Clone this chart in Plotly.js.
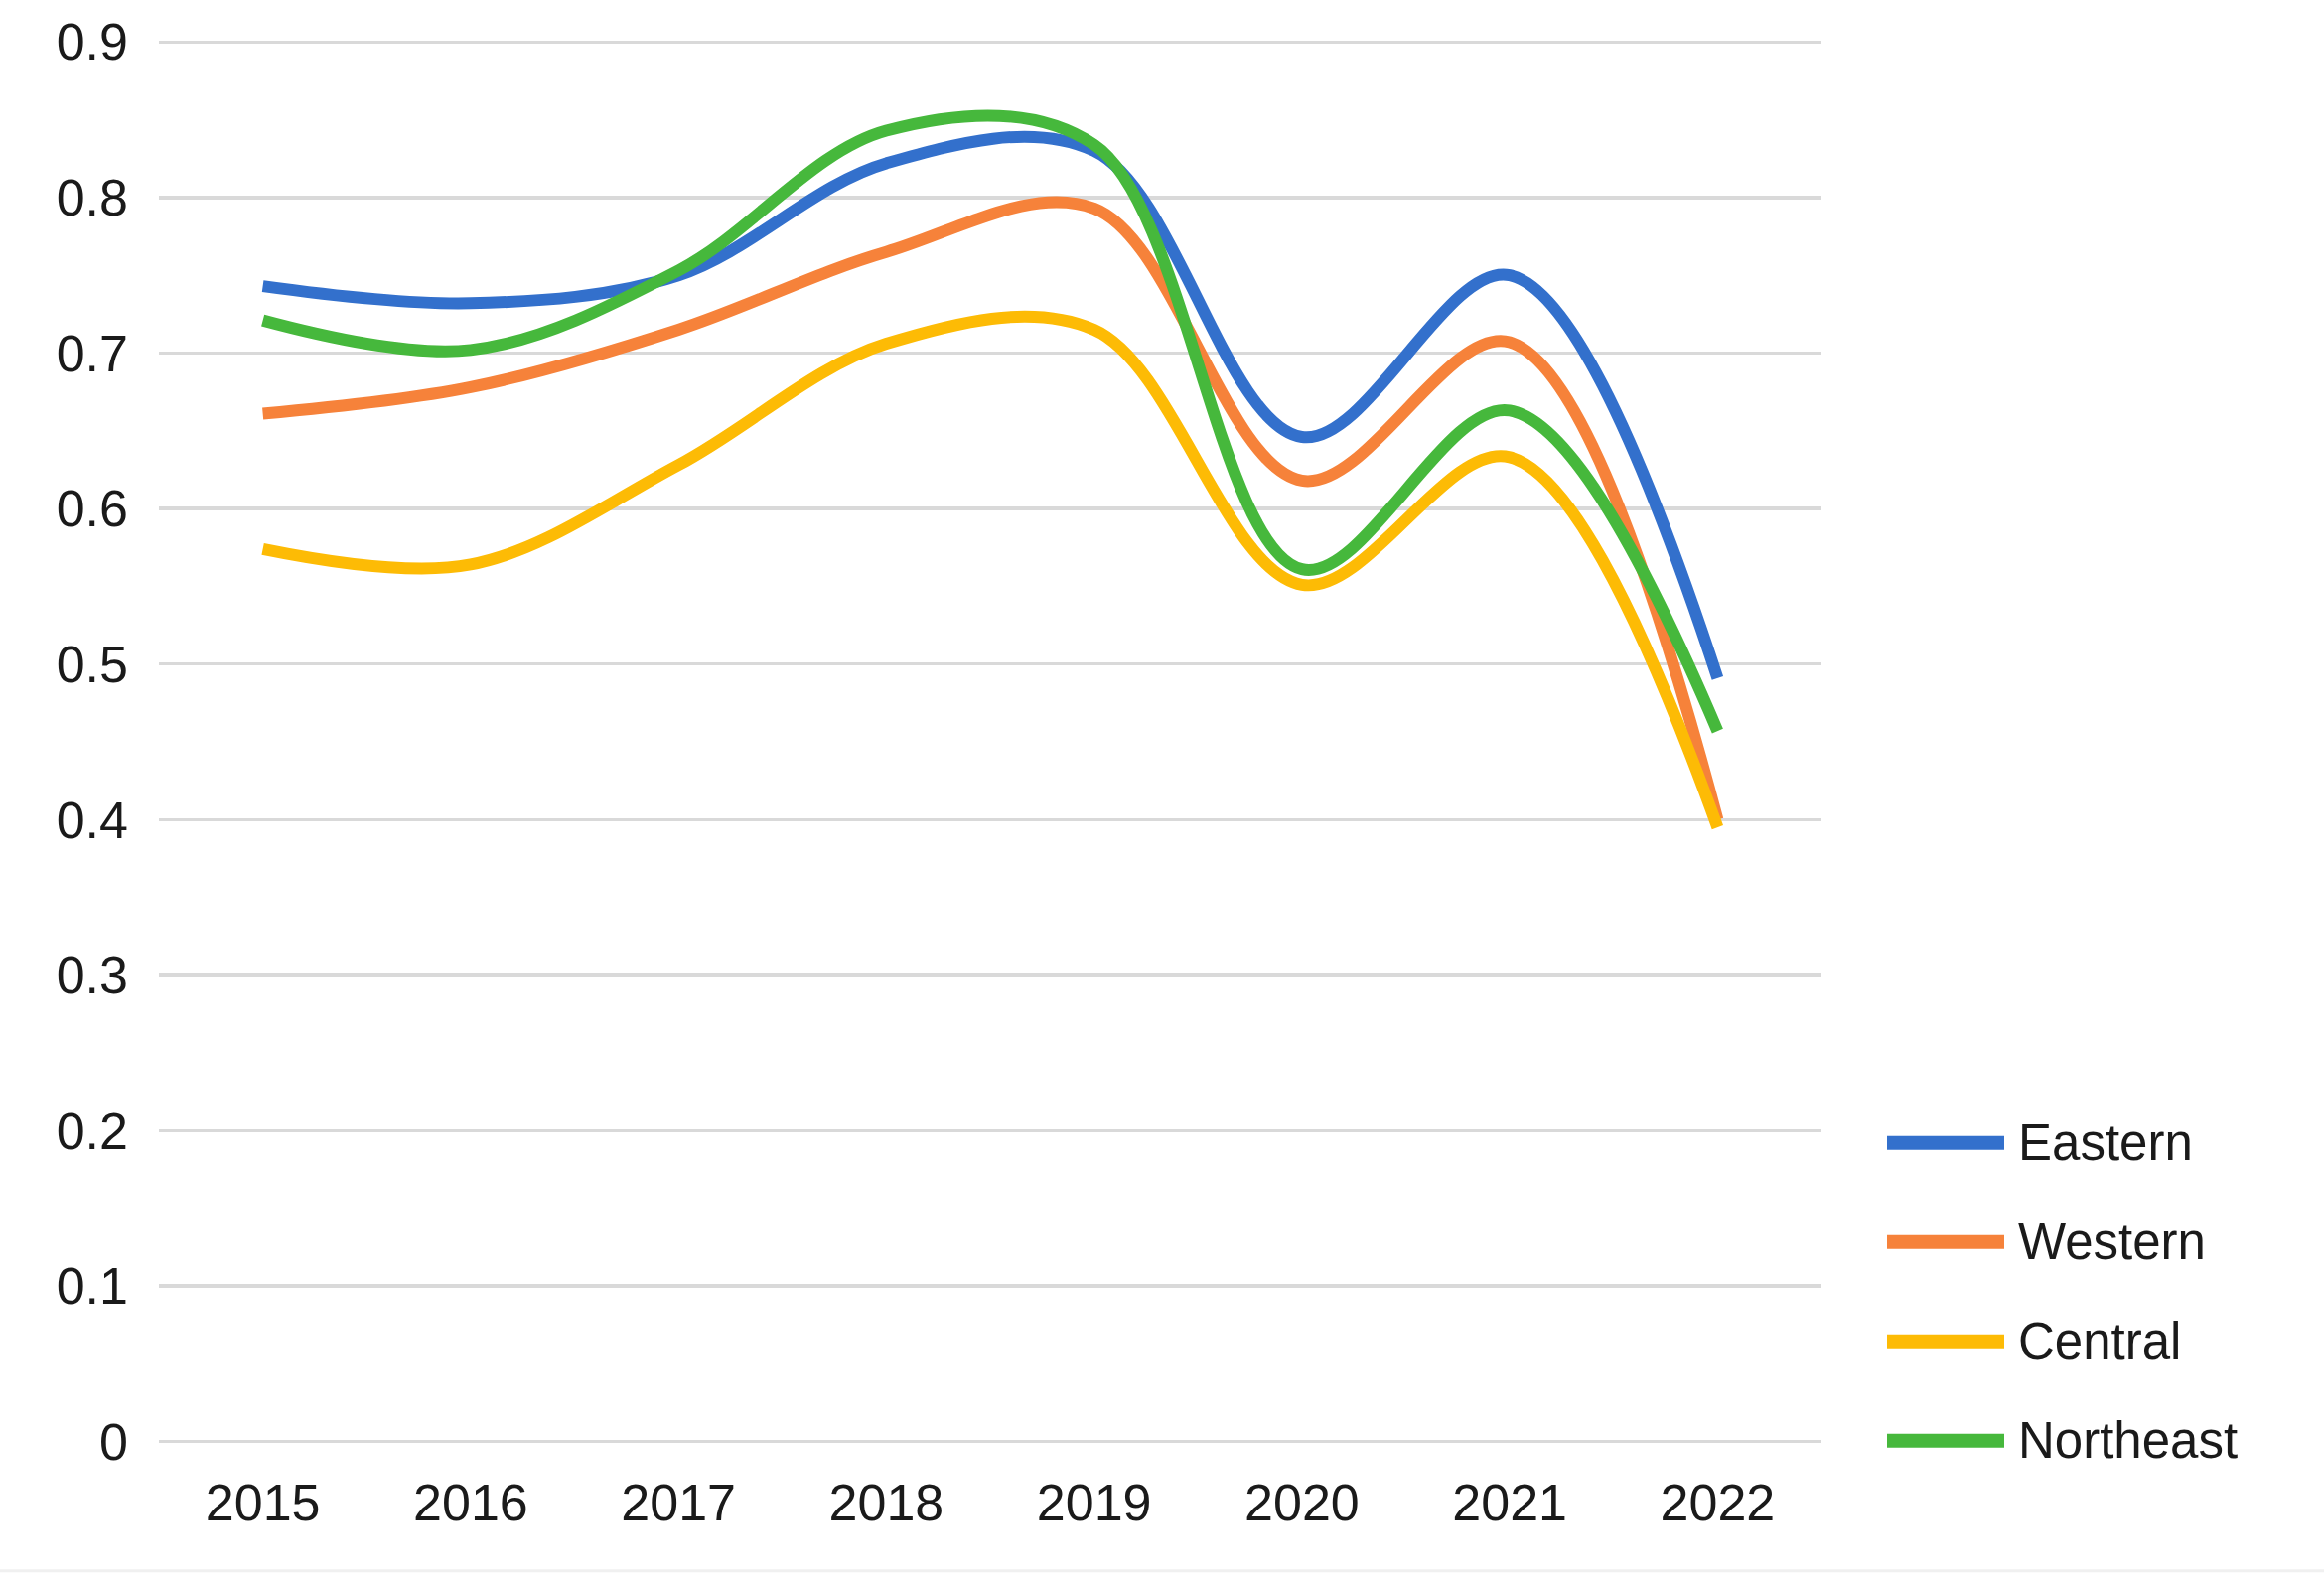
<!DOCTYPE html>
<html>
<head>
<meta charset="utf-8">
<script src="https://cdn.plot.ly/plotly-3.0.1.min.js"></script>
<style>
  html, body { margin: 0; padding: 0; background: #ffffff; }
  #chart { width: 2340px; height: 1593px; }
</style>
</head>
<body>
<div id="chart"></div>
<script>
// ---- data ----
const years = ['2015', '2016', '2017', '2018', '2019', '2020', '2021', '2022'];
const eastern   = [0.743, 0.732, 0.750, 0.822, 0.830, 0.646, 0.750, 0.491];
const western   = [0.661, 0.678, 0.715, 0.765, 0.793, 0.618, 0.707, 0.400];
const central   = [0.574, 0.564, 0.628, 0.706, 0.715, 0.551, 0.633, 0.395];
const northeast = [0.721, 0.702, 0.753, 0.843, 0.834, 0.561, 0.663, 0.457];
const seriesNames = ['Eastern', 'Western', 'Central', 'Northeast'];
const yTicks = [0, 0.1, 0.2, 0.3, 0.4, 0.5, 0.6, 0.7, 0.8, 0.9];
const yTickLabels = ['0', '0.1', '0.2', '0.3', '0.4', '0.5', '0.6', '0.7', '0.8', '0.9'];

// ---- styles ----
const colors = ['#3370CC', '#F6823A', '#FDBB05', '#46B83C'];
const seriesValues = [eastern, western, central, northeast];
const FONT = 'Liberation Sans, Arial, Helvetica, sans-serif';

const traces = seriesValues.map((vals, i) => ({
  type: 'scatter',
  mode: 'lines',
  name: seriesNames[i],
  x: years,
  y: vals,
  line: { color: colors[i], width: 12, shape: 'spline', smoothing: 1 },
  showlegend: false,
  hoverinfo: 'x+y+name'
}));

// plot box (pixels) ; y range padded slightly so the 0 and 0.9 gridlines are drawn
const plotL = 160, plotR = 1834;
const y0px = 1452, y9px = 42;          // pixel rows of 0 and 0.9
const yMin = -0.004, yMax = 0.904;
const pxPerUnit = (y0px - y9px) / 0.9;
const plotT = y9px - (yMax - 0.9) * pxPerUnit;
const plotB = y0px + (0 - yMin) * pxPerUnit;

const pxToPaperX = px => (px - plotL) / (plotR - plotL);
const pxToPaperY = py => (plotB - py) / (plotB - plotT);

// custom legend (long line swatches, wide spacing), built from the series arrays
const legendShapes = [];
const legendAnnots = [];
seriesNames.forEach((nm, i) => {
  const yy = pxToPaperY(1151 + i * 100);
  legendShapes.push({
    type: 'line', xref: 'paper', yref: 'paper',
    x0: pxToPaperX(1900), x1: pxToPaperX(2018), y0: yy, y1: yy,
    line: { color: colors[i], width: 14 }
  });
  legendAnnots.push({
    xref: 'paper', yref: 'paper', x: pxToPaperX(2030), y: yy,
    xanchor: 'left', yanchor: 'middle', showarrow: false,
    text: nm, font: { family: FONT, size: 51, color: '#1a1a1a' }
  });
});
legendShapes.push({
  type: 'line', xref: 'paper', yref: 'paper',
  x0: pxToPaperX(0), x1: pxToPaperX(2340), y0: pxToPaperY(1582), y1: pxToPaperY(1582),
  line: { color: '#f0f0f0', width: 3 }
});

const layout = {
  width: 2340,
  height: 1593,
  margin: { l: plotL, r: 2340 - plotR, t: plotT, b: 1593 - plotB, pad: 0 },
  paper_bgcolor: '#ffffff',
  plot_bgcolor: '#ffffff',
  showlegend: false,
  font: { family: FONT, size: 52, color: '#1a1a1a' },
  xaxis: {
    type: 'category',
    range: [-0.5, 7.5],
    showgrid: false,
    showline: false,
    zeroline: false,
    ticks: '',
    ticklabelstandoff: 20,
    tickfont: { family: FONT, size: 52, color: '#1a1a1a' },
    fixedrange: true
  },
  yaxis: {
    range: [yMin, yMax],
    tickvals: yTicks,
    ticktext: yTickLabels,
    showgrid: true,
    gridcolor: '#d9d9d9',
    gridwidth: 3.5,
    zeroline: false,
    showline: false,
    ticks: '',
    ticklabelstandoff: 30,
    tickfont: { family: FONT, size: 52, color: '#1a1a1a' },
    fixedrange: true
  },
  shapes: legendShapes,
  annotations: legendAnnots
};

Plotly.newPlot('chart', traces, layout, { displayModeBar: false, staticPlot: true });
</script>
</body>
</html>
